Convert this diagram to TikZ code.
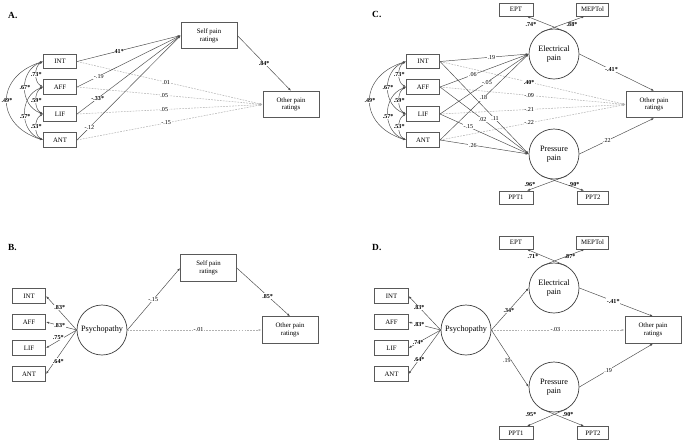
\documentclass[tikz,border=0pt]{standalone}
\usepackage{fontspec}
\setmainfont{Liberation Serif}
\usetikzlibrary{arrows.meta,calc}
\begin{document}
\begin{tikzpicture}[x=0.03cm,y=-0.03cm,
  box/.style={draw=black!65, line width=0.6pt, fill=white, font=\fontsize{5.8}{6.6}\selectfont, align=center, inner sep=0pt},
  ind/.style={box, minimum width=1.0cm, minimum height=0.44cm},
  big/.style={box, minimum width=1.68cm, minimum height=0.8cm},
  sml/.style={box, minimum width=1.02cm, minimum height=0.39cm},
  smlb/.style={box, minimum width=0.95cm, minimum height=0.39cm},
  lat/.style={circle, draw=black!75, line width=0.6pt, fill=white, minimum size=1.5cm, inner sep=0pt, font=\fontsize{7}{8}\selectfont, align=center},
  tip/.tip={Latex[length=2.6pt,width=1.8pt]},
  arr/.style={draw=black!70, line width=0.4pt, -tip},
  darr/.style={draw=black!30, line width=0.45pt, dash pattern=on 1.5pt off 1pt, -tip},
  cov/.style={draw=black!70, line width=0.4pt, tip-tip},
  lab/.style={font=\fontsize{5.2}{6}\selectfont, fill=white, inner sep=0.5pt},
  slab/.style={lab, font=\bfseries\fontsize{5.2}{6}\selectfont},
  ttl/.style={font=\bfseries\fontsize{8}{9}\selectfont, anchor=west, inner sep=0pt}
]
\useasboundingbox (0,0) rectangle (685,440);

% ---------------- Panel A ----------------
\node[ttl] (tA) at (8,15) {A.};
\node[ind] (intA) at (60,61.5) {INT};
\node[ind] (affA) at (60,87) {AFF};
\node[ind] (lifA) at (60,114) {LIF};
\node[ind] (antA) at (60,140) {ANT};
\node[big] (sA) at (209,35.5) {Self pain\\ratings};
\node[big] (oA) at (291,104.5) {Other pain\\ratings};

\draw[darr] (intA.east) -- (oA.west) node[lab,pos=0.48]{.01};
\draw[darr] (affA.east) -- (oA.west) node[lab,pos=0.47]{.05};
\draw[darr] (lifA.east) -- (oA.west) node[lab,pos=0.47]{.05};
\draw[darr] (antA.east) -- (oA.west) node[lab,pos=0.48]{-.15};
\draw[arr] (intA.east) -- (sA.west) node[slab,pos=0.4]{.41*};
\draw[arr] (affA.east) -- (sA.west) node[lab,pos=0.21]{-.19};
\draw[arr] (lifA.east) -- (sA.west) node[slab,pos=0.2]{-.33*};
\draw[arr] (antA.east) -- (sA.west) node[lab,pos=0.12]{-.12};
\draw[arr] (sA.east) -- (oA.north) node[slab,pos=0.5]{.84*};

\draw[cov] (intA.west) .. controls +(-48,15) and +(-48,-15) .. (antA.west) node[slab,pos=0.5]{.49*};
\draw[cov] (intA.west) .. controls +(-24,9) and +(-24,-9) .. (lifA.west) node[slab,pos=0.5]{.67*};
\draw[cov] (affA.west) .. controls +(-24,9) and +(-24,-9) .. (antA.west) node[slab,pos=0.55]{.57*};
\draw[cov] (intA.west) .. controls +(-9,5) and +(-9,-5) .. (affA.west) node[slab,pos=0.5]{.73*};
\draw[cov] (affA.west) .. controls +(-9,5) and +(-9,-5) .. (lifA.west) node[slab,pos=0.5]{.59*};
\draw[cov] (lifA.west) .. controls +(-9,5) and +(-9,-5) .. (antA.west) node[slab,pos=0.5]{.53*};

% ---------------- Panel C ----------------
\node[ttl] (tC) at (372,14) {C.};
\node[ind] (intC) at (423,61.5) {INT};
\node[ind] (affC) at (423,87) {AFF};
\node[ind] (lifC) at (423,114) {LIF};
\node[ind] (antC) at (423,140) {ANT};
\node[lat] (elC) at (554,54) {Electrical\\pain};
\node[lat] (prC) at (554,154) {Pressure\\pain};
\node[sml] (eptC) at (516,9.5) {EPT};
\node[smlb] (meptC) at (592.5,9.5) {MEPTol};
\node[sml] (ppt1C) at (516,197.5) {PPT1};
\node[smlb] (ppt2C) at (593,197.5) {PPT2};
\node[big] (oC) at (654,104.5) {Other pain\\ratings};

\draw[darr] (intC.east) -- (oC.west) node[slab,pos=0.48]{.40*};
\draw[darr] (affC.east) -- (oC.west) node[lab,pos=0.48]{-.09};
\draw[darr] (lifC.east) -- (oC.west) node[lab,pos=0.48]{-.21};
\draw[darr] (antC.east) -- (oC.west) node[lab,pos=0.48]{-.22};
\draw[arr] (intC.east) -- (elC.west) node[lab,pos=0.58]{.19};
\draw[arr] (affC.east) -- (elC.west) node[lab,pos=0.37]{.06};
\draw[arr] (lifC.east) -- (elC.west) node[lab,pos=0.53]{-.05};
\draw[arr] (antC.east) -- (elC.west) node[lab,pos=0.49]{.18};
\draw[arr] (intC.east) -- (prC.west) node[lab,pos=0.62]{.11};
\draw[arr] (affC.east) -- (prC.west) node[lab,pos=0.48]{.02};
\draw[arr] (lifC.east) -- (prC.west) node[lab,pos=0.32]{-.15};
\draw[arr] (antC.east) -- (prC.west) node[lab,pos=0.37]{.26};
\draw[arr] (elC.east) -- (oC.north) node[slab,pos=0.43]{-.41*};
\draw[arr] (prC.east) -- (oC.south) node[lab,pos=0.37]{.22};
\draw[arr] (elC.60) -- ($(eptC.south)+(11,0)$);
\draw[arr] (elC.120) -- ($(meptC.south)+(-8,0)$);
\draw[arr] (prC.-60) -- ($(ppt1C.north)+(11,0)$);
\draw[arr] (prC.-120) -- ($(ppt2C.north)+(-9,0)$);
\node[slab,fill=none] (l1C) at (531,25) {.74*};
\node[slab,fill=none] (l2C) at (572,25) {.88*};
\node[slab,fill=none] (l3C) at (530,185) {.96*};
\node[slab,fill=none] (l4C) at (574,185) {.90*};

\draw[cov] (intC.west) .. controls +(-48,15) and +(-48,-15) .. (antC.west) node[slab,pos=0.5]{.49*};
\draw[cov] (intC.west) .. controls +(-24,9) and +(-24,-9) .. (lifC.west) node[slab,pos=0.5]{.67*};
\draw[cov] (affC.west) .. controls +(-24,9) and +(-24,-9) .. (antC.west) node[slab,pos=0.55]{.57*};
\draw[cov] (intC.west) .. controls +(-9,5) and +(-9,-5) .. (affC.west) node[slab,pos=0.5]{.73*};
\draw[cov] (affC.west) .. controls +(-9,5) and +(-9,-5) .. (lifC.west) node[slab,pos=0.5]{.59*};
\draw[cov] (lifC.west) .. controls +(-9,5) and +(-9,-5) .. (antC.west) node[slab,pos=0.5]{.53*};

% ---------------- Panel B ----------------
\node[ttl] (tB) at (8,247) {B.};
\node[ind] (intB) at (29,296) {INT};
\node[ind] (affB) at (29,322) {AFF};
\node[ind] (lifB) at (29,348) {LIF};
\node[ind] (antB) at (29,374) {ANT};
\node[lat] (psyB) at (102,330) {Psychopathy};
\node[big] (sB) at (208.5,268) {Self pain\\ratings};
\node[big] (oB) at (290,330) {Other pain\\ratings};

\draw[arr] (psyB.west) -- (intB.east) node[slab,pos=0.55,yshift=3.5pt]{.83*};
\draw[arr] (psyB.west) -- (affB.east) node[slab,pos=0.55]{.83*};
\draw[arr] (psyB.west) -- (lifB.east) node[slab,pos=0.6,yshift=3pt]{.75*};
\draw[arr] (psyB.west) -- (antB.east) node[slab,pos=0.6,yshift=-4pt]{.64*};
\draw[darr] (psyB.east) -- (oB.west) node[lab,pos=0.53]{-.01};
\draw[arr] (psyB.east) -- (sB.west) node[lab,pos=0.49]{-.15};
\draw[arr] (sB.east) -- (oB.north) node[slab,pos=0.58]{.85*};

% ---------------- Panel D ----------------
\node[ttl] (tD) at (372,247) {D.};
\node[ind] (intD) at (391.5,296) {INT};
\node[ind] (affD) at (391.5,322) {AFF};
\node[ind] (lifD) at (391.5,348) {LIF};
\node[ind] (antD) at (391.5,374) {ANT};
\node[lat] (psyD) at (466,330) {Psychopathy};
\node[lat] (elD) at (554,288) {Electrical\\pain};
\node[lat] (prD) at (554,387) {Pressure\\pain};
\node[sml] (eptD) at (516,242.5) {EPT};
\node[smlb] (meptD) at (592.5,242.5) {MEPTol};
\node[sml] (ppt1D) at (516,433) {PPT1};
\node[smlb] (ppt2D) at (593,433) {PPT2};
\node[big] (oD) at (653,330) {Other pain\\ratings};

\draw[arr] (psyD.west) -- (intD.east) node[slab,pos=0.67]{.83*};
\draw[arr] (psyD.west) -- (affD.east) node[slab,pos=0.67]{.83*};
\draw[arr] (psyD.west) -- (lifD.east) node[slab,pos=0.7]{.74*};
\draw[arr] (psyD.west) -- (antD.east) node[slab,pos=0.67]{.64*};
\draw[darr] (psyD.east) -- (oD.west) node[lab,pos=0.48]{-.03};
\draw[arr] (psyD.east) -- (elD.west) node[slab,pos=0.47]{.34*};
\draw[arr] (psyD.east) -- (prD.west) node[lab,pos=0.45,xshift=-1pt,yshift=-4pt]{.19};
\draw[arr] (elD.east) -- (oD.north) node[slab,pos=0.46]{-.41*};
\draw[arr] (prD.east) -- (oD.south) node[lab,pos=0.39]{.19};
\draw[arr] (elD.60) -- ($(eptD.south)+(11,0)$);
\draw[arr] (elD.120) -- ($(meptD.south)+(-8,0)$);
\draw[arr] (prD.-60) -- ($(ppt1D.north)+(11,0)$);
\draw[arr] (prD.-120) -- ($(ppt2D.north)+(-9,0)$);
\node[slab,fill=none] (l1D) at (533,257) {.71*};
\node[slab,fill=none] (l2D) at (570,257) {.87*};
\node[slab,fill=none] (l3D) at (531,415) {.95*};
\node[slab,fill=none] (l4D) at (568,415) {.90*};
\end{tikzpicture}
\end{document}
